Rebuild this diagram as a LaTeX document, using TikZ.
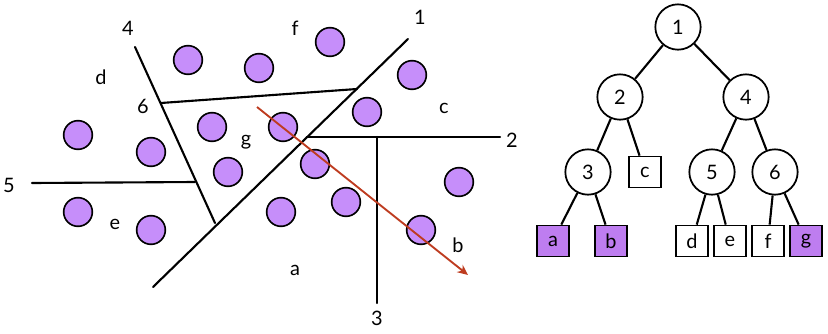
\documentclass[tikz,border=0pt]{standalone}
\usepackage{fontspec}
\newfontfamily\lblfont{Lato}
\usetikzlibrary{positioning, arrows.meta}
\definecolor{ptfill}{RGB}{198,142,250}
\definecolor{leaffill}{RGB}{190,125,240}
\definecolor{arrred}{RGB}{190,60,32}

\begin{document}
\begin{tikzpicture}[
  x=0.03cm, y=-0.03cm,
  lbl/.style = {font=\lblfont\fontsize{17}{17}\selectfont, inner sep=0pt},
  cut/.style = {line width=1.8pt, line cap=round},
  pt/.style = {draw, circle, fill=ptfill, line width=1.4pt, minimum size=0.86cm, inner sep=0pt},
  inner/.style = {draw, circle, line width=1.5pt, minimum size=1.36cm, inner sep=0pt, lbl},
  leaf/.style = {draw, rectangle, line width=1.5pt, minimum width=0.96cm, minimum height=0.93cm, inner sep=0pt, lbl},
  edge/.style = {line width=1.8pt},
  arr/.style = {-{Stealth[length=9pt, width=8pt]}, arrred, line width=1.6pt}
]
\useasboundingbox (0,0) rectangle (828,334);

% partition lines
\coordinate (c4top) at (135,47);
\coordinate (c4bot) at (215,223);
\coordinate (j6)    at (161,103);
\coordinate (j1)    at (357,89);
\coordinate (c1top) at (408,39);
\coordinate (c1bot) at (153,287);
\coordinate (j2)    at (307,137);
\coordinate (c2end) at (500,137);
\coordinate (j3)    at (377,137);
\coordinate (c3end) at (377,303);
\coordinate (c5end) at (32,183);
\coordinate (j5)    at (195,182);

\draw[cut] (c1bot) -- (c1top);   % cut 1
\draw[cut] (j2) -- (c2end);      % cut 2
\draw[cut] (j3) -- (c3end);      % cut 3
\draw[cut] (c4top) -- (c4bot);   % cut 4
\draw[cut] (c5end) -- (j5);      % cut 5
\draw[cut] (j6) -- (j1);         % cut 6

% points
\foreach \px/\py [count=\i] in {188/60, 259/68, 330/42, 412/75, 367/112,
    212/127, 283/127, 78/135, 151/152, 228/172, 315/164, 459/182,
    346/202, 281/212, 78/212, 151/230, 421/230}
  \node[pt] (p\i) at (\px,\py) {};

% cut numbers
\node[lbl] (n1) at (420,17)  {1};
\node[lbl] (n2) at (512,140) {2};
\node[lbl] (n3) at (377,318) {3};
\node[lbl] (n4) at (128,28)  {4};
\node[lbl] (n5) at (9,185)   {5};
\node[lbl] (n6) at (143,106) {6};

% region names
\node[lbl] (ra) at (295,270) {a};
\node[lbl] (rb) at (458,245) {b};
\node[lbl] (rc) at (444,108) {c};
\node[lbl] (rd) at (101,77)  {d};
\node[lbl] (re) at (115,224) {e};
\node[lbl] (rf) at (295,28)  {f};
\node[lbl] (rg) at (246,142) {g};

% query ray
\coordinate (qs) at (257,107);
\coordinate (qe) at (468,275);
\draw[arr] (qs) -- (qe);

% tree
\node[inner] (t1) at (678,27)  {1};
\node[inner] (t2) at (620,97)  {2};
\node[inner] (t4) at (746,97)  {4};
\node[inner] (t3) at (588,172) {3};
\node[leaf]  (lc) at (645,172) {c};
\node[inner] (t5) at (712,172) {5};
\node[inner] (t6) at (775,172) {6};
\node[leaf, fill=leaffill] (la) at (553,241) {a};
\node[leaf, fill=leaffill] (lb) at (611,241) {b};
\node[leaf]  (ld) at (692,241) {d};
\node[leaf]  (le) at (730,241) {e};
\node[leaf]  (lf) at (768,241) {f};
\node[leaf, fill=leaffill] (lg) at (806,241) {g};

\draw[edge] (t1) -- (t2);
\draw[edge] (t1) -- (t4);
\draw[edge] (t2) -- (t3);
\draw[edge] (t2) -- (lc);
\draw[edge] (t4) -- (t5);
\draw[edge] (t4) -- (t6);
\draw[edge] (t3) -- (la);
\draw[edge] (t3) -- (lb);
\draw[edge] (t5) -- (ld);
\draw[edge] (t5) -- (le);
\draw[edge] (t6) -- (lf);
\draw[edge] (t6) -- (lg);

\end{tikzpicture}
\end{document}
